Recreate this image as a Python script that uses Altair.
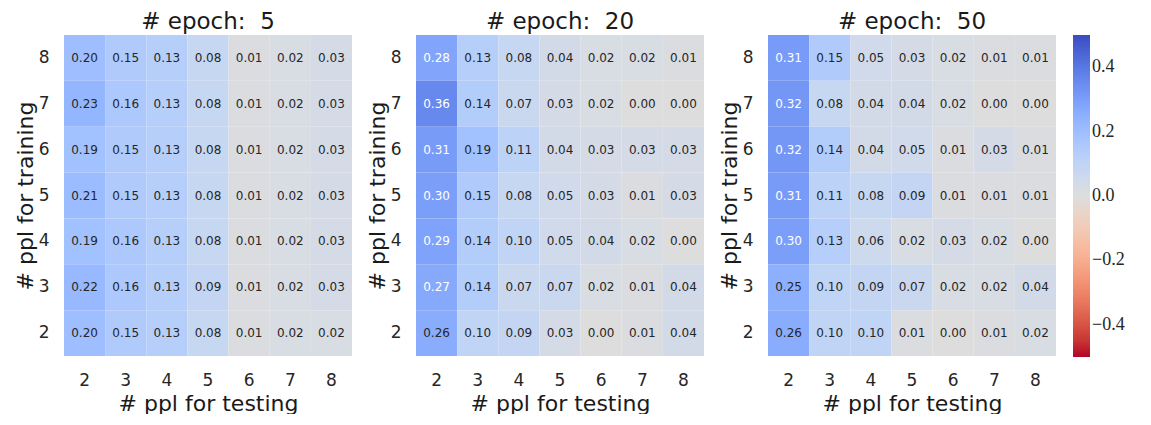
import altair as alt
import pandas as pd

# Axis categories
test_ppl = [2, 3, 4, 5, 6, 7, 8]
train_ppl = [8, 7, 6, 5, 4, 3, 2]  # rows listed from top to bottom

epochs = [5, 20, 50]

# Rows ordered by training ppl 8 -> 2, columns by testing ppl 2 -> 8
epoch5 = [
    [0.20, 0.15, 0.13, 0.08, 0.01, 0.02, 0.03],
    [0.23, 0.16, 0.13, 0.08, 0.01, 0.02, 0.03],
    [0.19, 0.15, 0.13, 0.08, 0.01, 0.02, 0.03],
    [0.21, 0.15, 0.13, 0.08, 0.01, 0.02, 0.03],
    [0.19, 0.16, 0.13, 0.08, 0.01, 0.02, 0.03],
    [0.22, 0.16, 0.13, 0.09, 0.01, 0.02, 0.03],
    [0.20, 0.15, 0.13, 0.08, 0.01, 0.02, 0.02],
]
epoch20 = [
    [0.28, 0.13, 0.08, 0.04, 0.02, 0.02, 0.01],
    [0.36, 0.14, 0.07, 0.03, 0.02, 0.00, 0.00],
    [0.31, 0.19, 0.11, 0.04, 0.03, 0.03, 0.03],
    [0.30, 0.15, 0.08, 0.05, 0.03, 0.01, 0.03],
    [0.29, 0.14, 0.10, 0.05, 0.04, 0.02, 0.00],
    [0.27, 0.14, 0.07, 0.07, 0.02, 0.01, 0.04],
    [0.26, 0.10, 0.09, 0.03, 0.00, 0.01, 0.04],
]
epoch50 = [
    [0.31, 0.15, 0.05, 0.03, 0.02, 0.01, 0.01],
    [0.32, 0.08, 0.04, 0.04, 0.02, 0.00, 0.00],
    [0.32, 0.14, 0.04, 0.05, 0.01, 0.03, 0.01],
    [0.31, 0.11, 0.08, 0.09, 0.01, 0.01, 0.01],
    [0.30, 0.13, 0.06, 0.02, 0.03, 0.02, 0.00],
    [0.25, 0.10, 0.09, 0.07, 0.02, 0.02, 0.04],
    [0.26, 0.10, 0.10, 0.01, 0.00, 0.01, 0.02],
]
grids = [epoch5, epoch20, epoch50]

# Diverging cool-warm palette (reversed: positive = blue, negative = red)
cw_stops = [
    (59, 76, 192), (68, 90, 204), (77, 104, 215), (87, 117, 225),
    (98, 130, 234), (108, 142, 241), (119, 154, 247), (130, 165, 251),
    (141, 176, 254), (152, 185, 255), (163, 194, 255), (174, 201, 253),
    (184, 208, 249), (194, 213, 244), (204, 217, 238), (213, 219, 230),
    (221, 221, 221), (229, 216, 209), (236, 211, 197), (241, 204, 184),
    (245, 196, 172), (247, 187, 160), (247, 177, 148), (247, 166, 136),
    (244, 154, 123), (241, 141, 111), (236, 127, 99), (229, 112, 88),
    (222, 96, 77), (213, 80, 66), (203, 62, 56), (192, 40, 47), (180, 4, 38),
]
n = len(cw_stops)
color_domain = [round(-0.5 + i / (n - 1), 6) for i in range(n)]
color_range = ["#%02x%02x%02x" % c for c in reversed(cw_stops)]

SANS = "DejaVu Sans"
TEXT_DARK = "#262626"

color_scale = alt.Scale(domain=color_domain, range=color_range, interpolate="rgb")


def panel(epoch, grid):
    rows = []
    for r, tr in enumerate(train_ppl):
        for c, te in enumerate(test_ppl):
            rows.append({"test": te, "train": tr, "v": grid[r][c]})
    df = pd.DataFrame(rows)
    base = alt.Chart(df).encode(
        x=alt.X("test:O", sort=test_ppl, title="# ppl for testing",
                scale=alt.Scale(paddingInner=0, paddingOuter=0)),
        y=alt.Y("train:O", sort=train_ppl, title="# ppl for training",
                scale=alt.Scale(paddingInner=0, paddingOuter=0)),
    )
    rect = base.mark_rect(stroke=None).encode(
        color=alt.Color(
            "v:Q", scale=color_scale, title=None,
            legend=alt.Legend(
                values=[-0.4, -0.2, 0.0, 0.2, 0.4],
                labelExpr="replace(format(datum.value, '.1f'), '-', '\u2212')",
            ),
        )
    )
    text = base.mark_text(font="DejaVu Sans", fontSize=12).encode(
        text=alt.Text("v:Q", format=".2f"),
        color=alt.condition("datum.v >= 0.265", alt.value("white"), alt.value(TEXT_DARK)),
    )
    return (rect + text).properties(
        width=288, height=321,
        title=alt.TitleParams(f"# epoch:\u00a0 {epoch}", fontSize=23, font=SANS,
                              fontWeight="normal", color="#1a1a1a",
                              anchor="middle", frame="group", offset=1),
    )


chart = alt.hconcat(*[panel(e, g) for e, g in zip(epochs, grids)], spacing=13).configure(
    padding={"left": 14, "top": 11, "right": 5, "bottom": 0},
    background="white",
).configure_view(
    strokeWidth=0,
).configure_axis(
    domain=False, ticks=False, grid=False,
    labelFont=SANS, labelFontSize=17, labelColor="#262626", labelAngle=0,
    titleFont=SANS, titleFontSize=22, titleFontWeight="normal", titleColor="#1a1a1a",
).configure_axisX(
    labelPadding=16, titlePadding=5,
).configure_axisY(
    labelPadding=15, titlePadding=1,
).configure_legend(
    orient="right", offset=17, direction="vertical",
    gradientLength=322, gradientThickness=17, gradientStrokeWidth=0,
    labelFont="Liberation Serif", labelFontSize=18, labelColor="#262626", labelOffset=12,
    tickCount=5,
)

chart.save("out.html", embed_options={"renderer": "svg", "actions": False})
